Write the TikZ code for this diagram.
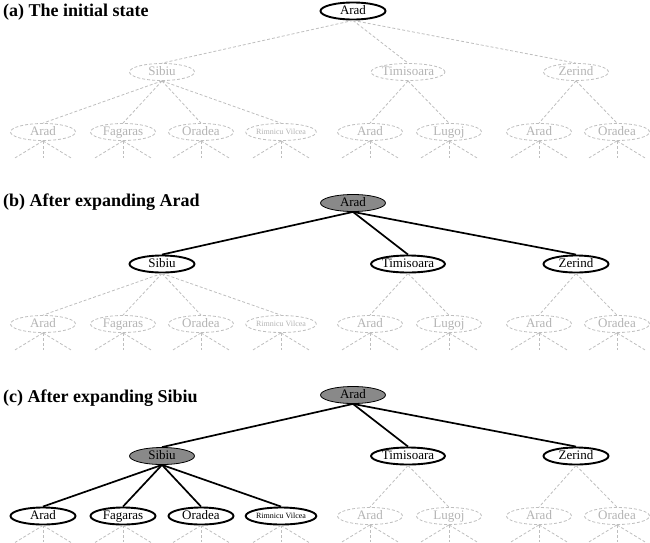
\documentclass[tikz,border=0pt]{standalone}
\usepackage{fontspec}
\setmainfont{Liberation Serif}
\usetikzlibrary{shapes.geometric}
\definecolor{ghostline}{HTML}{BEBEBE}
\definecolor{ghosttext}{HTML}{B4B4B4}
\definecolor{donefill}{HTML}{898989}
\tikzset{
  nd/.style={ellipse, minimum width=65pt, minimum height=17pt, inner sep=0pt, text height=9pt, text depth=2.5pt, font=\fontsize{13}{14}\selectfont},
  openst/.style={nd, draw=black, line width=1.9pt, fill=white, text=black},
  donest/.style={nd, draw=black, line width=0.8pt, fill=donefill, text=black},
  ghostst/.style={nd, draw=ghostline, dash pattern=on 3pt off 2pt, line width=0.8pt, fill=white, text=ghosttext},
  sedge/.style={draw=black, line width=1.7pt},
  gedge/.style={draw=ghostline, line width=0.8pt, dash pattern=on 3pt off 2pt},
  smallfont/.style={font=\fontsize{8}{9}\selectfont, text height=6pt, text depth=2pt},
  title/.style={anchor=base west, inner sep=0pt, font=\fontsize{18}{20}\selectfont\bfseries}
}
% #1 prefix, #2 y offset, #3 root style, #4 Sibiu style, #5 Timisoara/Zerind style,
% #6 Sibiu children style, #7 root edges, #8 Sibiu edges
\newcommand{\drawtree}[8]{%
  \node[#3] (#1-A) at (353,11+#2) {Arad};
  \node[#4] (#1-S) at (162,72+#2) {Sibiu};
  \node[#5] (#1-T) at (408,72+#2) {Timisoara};
  \node[#5] (#1-Z) at (576,72+#2) {Zerind};
  \node[#6] (#1-SA) at (43,132+#2) {Arad};
  \node[#6] (#1-SF) at (123,132+#2) {Fagaras};
  \node[#6] (#1-SO) at (201,132+#2) {Oradea};
  \node[#6, smallfont] (#1-SR) at (281,132+#2) {Rimnicu Vilcea};
  \node[ghostst] (#1-TA) at (370,132+#2) {Arad};
  \node[ghostst] (#1-TL) at (449,132+#2) {Lugoj};
  \node[ghostst] (#1-ZA) at (539,132+#2) {Arad};
  \node[ghostst] (#1-ZO) at (617,132+#2) {Oradea};
  \foreach \c in {S,T,Z} {\draw[#7] (#1-A.south) -- (#1-\c.north);}
  \foreach \c in {SA,SF,SO,SR} {\draw[#8] (#1-S.south) -- (#1-\c.north);}
  \foreach \c in {TA,TL} {\draw[gedge] (#1-T.south) -- (#1-\c.north);}
  \foreach \c in {ZA,ZO} {\draw[gedge] (#1-Z.south) -- (#1-\c.north);}
  \foreach \c in {SA,SF,SO,SR,TA,TL,ZA,ZO} {
    \draw[gedge] (#1-\c.south) -- ++(-28,17);
    \draw[gedge] (#1-\c.south) -- ++(0,17);
    \draw[gedge] (#1-\c.south) -- ++(28,17);
  }
}
\begin{document}
\begin{tikzpicture}[x=1pt,y=-1pt]
\useasboundingbox (0,0) rectangle (650,542);
\clip (0,0) rectangle (650,542);
\node[title] (ta) at (3,16) {(a) The initial state};
\node[title] (tb) at (3,206) {(b) After expanding Arad};
\node[title] (tc) at (3,402) {(c) After expanding Sibiu};
\drawtree{a}{0}{openst}{ghostst}{ghostst}{ghostst}{gedge}{gedge}
\drawtree{b}{192}{donest}{openst}{openst}{ghostst}{sedge}{gedge}
\drawtree{c}{384}{donest}{donest}{openst}{openst}{sedge}{sedge}
\end{tikzpicture}
\end{document}
